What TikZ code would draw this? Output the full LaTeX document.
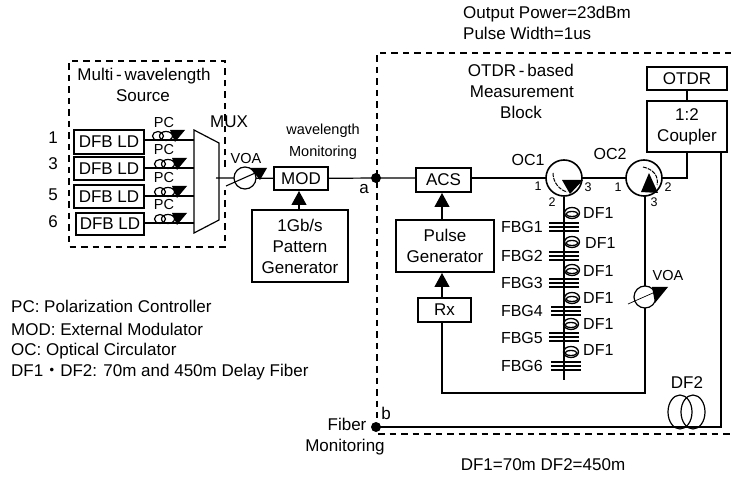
\documentclass[tikz,border=0pt]{standalone}
\usepackage{fontspec}
\setmainfont{Liberation Sans}
\newfontfamily\cjk{Noto Sans CJK JP}
\usetikzlibrary{arrows.meta}
\tikzset{
 txt/.style={inner sep=0pt,font=\fontsize{17}{21}\selectfont,align=center},
 mid/.style={inner sep=0pt,font=\fontsize{16}{20}\selectfont},
 lab/.style={inner sep=0pt,font=\fontsize{14.5}{18}\selectfont},
 small/.style={inner sep=0pt,font=\fontsize{12.5}{15}\selectfont},
 boxx/.style={draw,line width=1.4pt,inner sep=0pt,align=center,font=\fontsize{17}{21}\selectfont},
 ln/.style={line width=1.2pt},
 dsh/.style={line width=1.2pt,dash pattern=on 6.5pt off 5pt},
 arr/.style={line width=1.2pt,-{Triangle[length=14pt,width=15pt]}},
}
\newcommand{\pcoil}[1]{%
 \draw[line width=1.2pt] (#1)++(-5,-4) circle[x radius=5.5,y radius=4.5];
 \draw[line width=1.2pt] (#1)++(3,-4) circle[x radius=6.5,y radius=4.5];
 \fill (#1)++(7,-10) -- ++(15,0) -- ++(-10,12) -- cycle;
}
\newcommand{\dfcoil}[1]{%
 \draw[line width=1.3pt] (#1) circle[x radius=7.5,y radius=5.5];
 \draw[line width=1.3pt] (#1)++(0,1) circle[x radius=6,y radius=2.5];
}
\newcommand{\fbg}[1]{%
 \draw[line width=1.1pt] (#1)++(-15,-4) -- ++(30,0) (#1)++(-15,0) -- ++(30,0) (#1)++(-15,4) -- ++(30,0);
}
\begin{document}
\begin{tikzpicture}[x=1pt,y=-1pt]
\useasboundingbox (0,0) rectangle (731,478);
% dashed blocks
\draw[dsh] (225,167) -- (225,61) -- (69,61) -- (69,247) -- (225,247) -- (225,190);
\draw[dsh] (731,53) -- (377,53) -- (377,418);
\draw[dsh] (378,434) -- (731,434);
% texts top
\node[txt,anchor=west] at (463,14) {Output Power=23dBm};
\node[txt,anchor=west] at (463,33) {Pulse Width=1us};
\node[txt] at (144,76) {Multi\,-\,wavelength};
\node[txt] at (143,96) {Source};
\node[txt,anchor=east] at (574,70) {OTDR\,-\,based};
\node[txt,anchor=east] at (574,92) {Measurement};
\node[txt] at (521,112) {Block};
\node[lab] at (323,131) {wavelength};
\node[lab] at (323,153) {Monitoring};
\node[txt] at (229,122) {MUX};
% LD labels
\node[txt] at (53,138) {1};
\node[txt] at (53,164) {3};
\node[txt] at (53,195) {5};
\node[txt] at (53,222) {6};
\node[boxx,minimum width=70,minimum height=24] (ld1) at (109,142) {DFB LD};
\node[boxx,minimum width=70,minimum height=23] (ld3) at (109,168.5) {DFB LD};
\node[boxx,minimum width=70,minimum height=23] (ld5) at (109,196.5) {DFB LD};
\node[boxx,minimum width=68,minimum height=22] (ld6) at (110,224) {DFB LD};
% MUX
\draw[ln] (194,130) -- (219,143) -- (219,220) -- (194,233) -- cycle;
\coordinate (m1) at (194,140);
\coordinate (m3) at (194,168);
\coordinate (m5) at (194,196);
\coordinate (m6) at (194,223);
\draw[ln] (ld1.east |- m1) -- (m1);
\draw[ln] (ld3.east |- m3) -- (m3);
\draw[ln] (ld5.east |- m5) -- (m5);
\draw[ln] (ld6.east |- m6) -- (m6);
\node[lab] at (164,123) {PC};
\node[lab] at (164,150) {PC};
\node[lab] at (164,178) {PC};
\node[lab] at (164,205) {PC};
\pcoil{163,140}
\pcoil{165,168}
\pcoil{165,196}
\pcoil{165,223}
% VOA & MOD
\node[boxx,minimum width=54,minimum height=23] (mod) at (301,178.5) {MOD};
\node[boxx,minimum width=96,minimum height=72] (pg) at (300,246) {1Gb/s\\Pattern\\Generator};
\node[lab] at (246,159) {VOA};
\coordinate (muxout) at (216,178);
\draw[ln] (muxout) -- (mod);
\draw[ln,fill=white] (245,178) circle (11);
\draw[line width=1.1pt] (226,186) -- (262,170);
\fill (267,168) -- (250,168) -- (260,180) -- cycle;
\draw[arr] (299,210) -- (299,191);
% main line
\fill (376,178) circle (5) coordinate (a);
\node[txt] at (364,189) {a};
\node[boxx,minimum width=55,minimum height=24] (acs) at (443.5,180) {ACS};
\draw[ln] (mod) -- (a) -- (acs.west |- a);
% circulators
\coordinate (oc1) at (564,178);
\coordinate (oc2) at (644,178);
\draw[ln] (acs.east |- a) -- (oc1);
\draw[ln] (oc1) -- (oc2);
\draw[line width=1.6pt,fill=white] (oc1) circle (18);
\draw[line width=1.6pt,fill=white] (oc2) circle (18);
\fill (562,180) -- (583,180) -- (570,194) -- cycle;
\fill (649,173) -- (658,193) -- (641,192) -- cycle;
\draw[line width=1pt,dash pattern=on 4pt off 1pt] (553,173) .. controls (553,183) and (560,190) .. (567,192);
\draw[line width=1pt,dash pattern=on 4pt off 1pt] (643,167) .. controls (653,169) and (659,176) .. (657,185);
\node[mid] at (528,160) {OC1};
\node[mid] at (610,154) {OC2};
\node[small] at (538,186) {1};
\node[small] at (588,187) {3};
\node[small] at (618,187) {1};
\node[small] at (668,187) {2};
\node[small] at (552,202) {2};
\node[small] at (654,202) {3};
% OTDR & coupler
\node[boxx,minimum width=80,minimum height=23] (otdr) at (687,78.5) {OTDR};
\node[boxx,minimum width=80,minimum height=51] (cp) at (687,126.5) {1:2\\Coupler};
\draw[ln] (otdr) -- (cp);
\draw[ln] (oc2) ++(18,0) -- (687,178) -- (cp.south);
% pulse gen, Rx
\node[boxx,minimum width=98,minimum height=52] (pulse) at (445,246) {Pulse\\Generator};
\node[boxx,minimum width=53,minimum height=24] (rx) at (444.5,310) {Rx};
\draw[arr] (442,220) -- (442,193);
\draw[arr] (442,298) -- (442,273);
% FBG string
\coordinate (bot) at (564,380);
\draw[ln] (564,197) -- (bot);
\dfcoil{572,213}
\dfcoil{572,242}
\dfcoil{572,270}
\dfcoil{572,298}
\dfcoil{571,324}
\dfcoil{571,352}
\fbg{564,227}
\fbg{564,256}
\fbg{564,283}
\fbg{566,311}
\fbg{564,337}
\fbg{566,366}
\foreach \y/\l in {227/1,256/2,283/3,311/4,338/5,366/6}{\node[mid,anchor=east] at (543,\y) {FBG\l};}
\foreach \y/\xx in {213/583,243/585,271/583,298/583,324/583,350/583}{\node[mid,anchor=west] at (\xx,\y) {DF1};}
% VOA and lower loop
\draw[ln] (442,322) -- (442,393) -- (645,393) -- (645,196);
\draw[ln,fill=white] (645,297) circle (11);
\draw[line width=.7pt] (628,304) -- (662,289);
\fill (668,287) -- (652,287) -- (655,303) -- cycle;
\node[lab] at (668,276) {VOA};
% fiber monitoring
\fill (376,427) circle (5) coordinate (b);
\node[txt] at (386,413) {b};
\coordinate (cr) at (721,427);
\draw[ln] (b) -- (cr) -- (721,152);
\draw[line width=1.2pt] (680,412) circle[x radius=12,y radius=17];
\draw[line width=1.2pt] (693,412) circle[x radius=12,y radius=17];
\node[txt] at (687,383) {DF2};
\node[txt] at (347,424) {Fiber};
\node[txt] at (345,447) {Monitoring};
\node[txt] at (543,465) {DF1=70m DF2=450m};
% legend
\node[txt,anchor=west] at (11,306) {PC: Polarization Controller};
\node[txt,anchor=west] at (11,329) {MOD: External Modulator};
\node[txt,anchor=west] at (11,351) {OC: Optical Circulator};
\node[txt,anchor=west] at (11,372) {DF1{\cjk ・}DF2: 70m and 450m Delay Fiber};
\end{tikzpicture}
\end{document}
